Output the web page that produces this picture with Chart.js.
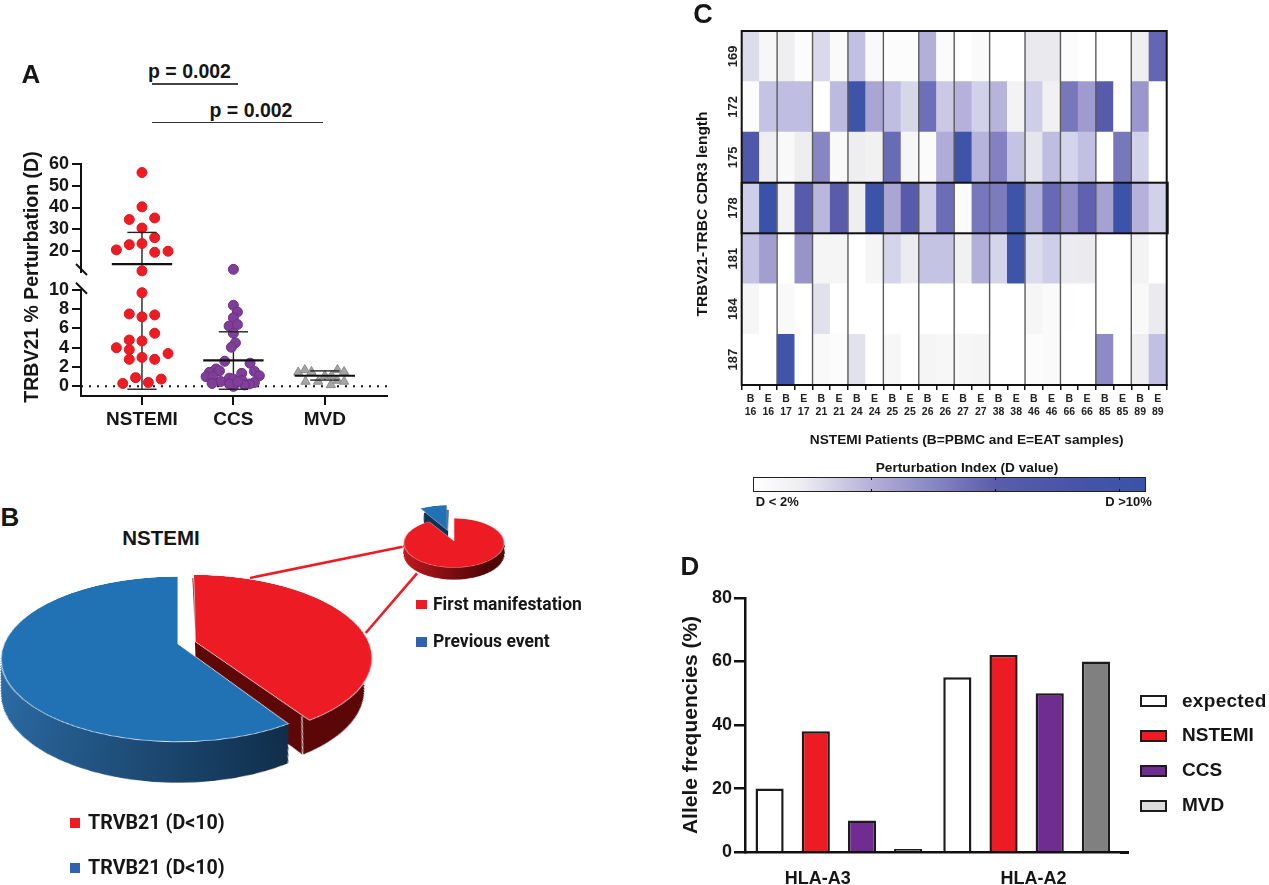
<!doctype html>
<html><head><meta charset="utf-8">
<style>
html,body{margin:0;background:#fff;overflow:hidden}
#page{position:relative;width:1269px;height:885px;overflow:hidden;font-family:'Liberation Sans',Arial,sans-serif;font-weight:bold;color:#161616}
canvas{position:absolute;display:block}
.t{position:absolute;white-space:nowrap;transform:translate(-50%,-50%)}
.b{position:absolute}
</style>
<script src="https://cdn.jsdelivr.net/npm/chart.js@4/dist/chart.umd.js"></script>
</head><body><div id="page"></div>
<script>
/* ---------- DATA ---------- */
/* A */
const groups=['NSTEMI','CCS','MVD'];
const yTicksHigh=[20,30,40,50,60];
const yTicksLow=[0,2,4,6,8,10];
const nstemiHighOff=[0,0,-.139,.139,0,.139,-.139,0,-.28,.139,.285,0];
const nstemiHighVal=[56,40.3,34.5,35.2,30.6,26.2,23,23.5,20.6,19.5,20,11];
const nstemiLowOff=[0,-.139,.139,0,.139,-.139,0,-.28,-.139,.285,-.139,0,.139,-.07,.21,-.21,.07];
const nstemiLowVal=[9.7,7.5,7.4,7.2,5.5,4.8,4.7,4,3.8,3.4,2.8,3,2.8,.9,.75,.3,.4];
const ccsHighOff=[0];
const ccsHighVal=[11.7];
const ccsLowOff=[0,.044,0,-.047,.044,0,.022,-.022,-.095,.182,-.19,-.153,-.262,.23,.091,.284,-.299,-.226,-.044,0,.095,-.138,-.233,.23,.175,.12,0,-.044,.047];
const ccsLowVal=[8.4,7.7,7.1,6.25,6.4,5.5,4.5,4.05,2.6,2.4,1.8,1.6,1.45,1.55,1.35,1.1,1,1,.85,.75,.6,.5,.3,.4,.25,.15,0,.25,.5];
const mvdOff=[-.291,-.219,-.146,-.211,-.073,0,.066,.073,.138,.211,.138,.211];
const mvdVal=[1.45,1.7,1.5,.5,.5,1.1,.15,1.1,1.7,1.5,.6,.5];
const means=[14.1,2.7,1.1];
const sdUpper=[28.6,5.65,1.6];
const sdLower=[-.3,-.3,.65];
/* B */
const mainPieLabels=['TRVB21 (D<10)','TRVB21 (D<10)'];
const mainPieValues=[41,59];
const subPieLabels=['First manifestation','Previous event'];
const subPieValues=[91,9];
/* C */
const patients=['16','17','21','24','25','26','27','38','46','66','85','89'];
const rowNames=['187','184','181','178','175','172','169'];
const row169=[2.5,.6,1.2,.2,2.7,.4,3.7,.5,.2,.2,4.3,.3,0,.4,0,0,1.6,1.6,.2,0,0,0,1.2,7.5];
const row172=[.2,3.6,3.8,3.8,0,3.9,9.6,4.6,3.8,2.8,7,3.4,4.2,3.1,4.1,.9,3.2,1.1,6.6,5,8.2,0,5.2,0];
const row175=[8.6,1.2,.5,1.3,5.9,.5,1.3,1.1,7.2,.7,.3,4.4,9.7,4.1,6.1,3.6,1.9,3.8,3,3.7,0,6.6,3.1,0];
const row178=[3.2,10,.9,8.2,4,8,1.3,9.8,4.6,8.2,3.2,7.1,.3,6.6,6.4,9.6,4.3,7.3,5.6,7.7,4.8,9.8,4.2,3.1];
const row181=[3.6,4.9,0,5.3,.8,.8,0,.8,3,1.4,3.6,3.6,1.1,4.3,3,9.6,2.5,3.2,1.4,1.5,0,0,.9,0];
const row184=[.7,0,.5,0,2.2,0,0,0,0,0,0,0,0,0,0,0,.7,.4,.1,0,0,0,.5,1.5];
const row187=[0,0,9.4,0,.5,.2,2.1,0,.6,0,.8,.6,.7,.8,0,0,.2,.4,0,0,5.7,0,1.2,3.7];
const heatStops=['#ffffff','#f2f2f2','#e4e4ec','#d4d4ea','#bab7de','#a09bce','#8583c2','#6e6fb8','#5a5cab','#4855a9','#3853a8'];
/* D */
const hlaCats=['HLA-A3','HLA-A2'];
const expectedFreq=[20,55];
const nstemiFreq=[38,62];
const ccsFreq=[10,50];
const mvdFreq=[1,60];
const freqTicks=[0,20,40,60,80];

/* ---------- HELPERS ---------- */
const page=document.getElementById('page');
Chart.defaults.font.family="'Liberation Sans',Arial,sans-serif";
Chart.defaults.font.weight='bold';
Chart.defaults.color='#161616';
Chart.defaults.animation=false;
Chart.defaults.responsive=false;
Chart.defaults.plugins.legend.display=false;
Chart.defaults.plugins.tooltip.enabled=false;
const INK='#111';
function cv(x,y,w,h,tf){const c=document.createElement('canvas');c.width=w;c.height=h;
  c.style.cssText=`left:${x}px;top:${y}px;width:${w}px;height:${h}px`+(tf?`;transform:${tf};transform-origin:50% 50%`:'');page.appendChild(c);return c;}
function txt(s,cx,cy,size,opt={}){const d=document.createElement('div');d.className='t';d.textContent=s;
  d.style.cssText=`left:${cx}px;top:${cy}px;font-size:${size}px;`+(opt.css||'');
  if(opt.rot)d.style.transform='translate(-50%,-50%) rotate(-90deg)';page.appendChild(d);return d;}
function box(x,y,w,h,css){const d=document.createElement('div');d.className='b';d.style.cssText=`left:${x}px;top:${y}px;width:${w}px;height:${h}px;${css}`;page.appendChild(d);return d;}
function hexRgb(h){return [1,3,5].map(i=>parseInt(h.substr(i,2),16));}
function heat(v){const a=Math.min(10,Math.max(0,v)),i=Math.min(9,Math.floor(a)),f=a-i,p=hexRgb(heatStops[i]),q=hexRgb(heatStops[i+1]);
  return `rgb(${p.map((c,k)=>Math.round(c+(q[k]-c)*f)).join(',')})`;}

/* ---------- PANEL A ---------- */
const pts=(g,off,val)=>val.map((v,k)=>({x:g+off[k],y:v}));
const xMin=-.667,xMax=2.68,HIGH_MIN=10.5;
const lineDs=(data,yAxisID,w,color,extra={})=>({type:'scatter',showLine:true,data,yAxisID,borderColor:color||INK,borderWidth:w,pointRadius:0,clip:false,...extra});
const dsA=[];
dsA.push(lineDs([{x:xMin,y:0},{x:xMax,y:0}],'yLow',2,INK,{borderDash:[2,6],order:9}));
const markerDs=(data,yAxisID,fill,edge,style,r)=>({data,yAxisID,backgroundColor:fill,borderColor:edge,borderWidth:1,pointStyle:style,pointRadius:r,showLine:false,clip:false,order:5});
dsA.push(markerDs(pts(0,nstemiHighOff,nstemiHighVal),'y','#ed1c24','#e0161e','circle',5));
dsA.push(markerDs(pts(0,nstemiLowOff,nstemiLowVal),'yLow','#ed1c24','#e0161e','circle',5));
dsA.push(markerDs(pts(1,ccsHighOff,ccsHighVal),'y','#7f3f98','#6d2f87','circle',5));
dsA.push(markerDs(pts(1,ccsLowOff,ccsLowVal),'yLow','#7f3f98','#6d2f87','circle',5));
dsA.push(markerDs(pts(2,mvdOff,mvdVal),'yLow','#a5a5a5','#8c8c8c','triangle',5.4));
groups.forEach((g,i)=>{
  const axis=v=>v>=HIGH_MIN?'y':'yLow';
  dsA.push(lineDs([{x:i-.33,y:means[i]},{x:i+.33,y:means[i]}],axis(means[i]),2.2,INK,{order:1}));
  [sdUpper[i],sdLower[i]].forEach(v=>dsA.push(lineDs([{x:i-.16,y:v},{x:i+.16,y:v}],axis(v),1.4,'#222',{order:1})));
  if(sdUpper[i]>=HIGH_MIN){
    dsA.push(lineDs([{x:i,y:sdUpper[i]},{x:i,y:HIGH_MIN+3}],'y',1.4,'#222',{order:6}));
    dsA.push(lineDs([{x:i,y:10},{x:i,y:sdLower[i]}],'yLow',1.4,'#222',{order:6}));
  } else {
    dsA.push(lineDs([{x:i,y:sdUpper[i]},{x:i,y:sdLower[i]}],'yLow',1.4,'#222',{order:6}));
  }
});
const axisA=(ticks,extra)=>({type:'linear',position:'left',stack:'broken',offset:false,
  afterFit:s=>{s.width=66},
  afterBuildTicks:s=>{s.ticks=ticks.map(v=>({value:v}))},
  border:{display:true,color:'#111',width:2},
  grid:{drawOnChartArea:false,color:'#111',lineWidth:2,tickLength:9},
  ticks:{font:{size:18,weight:'bold'},padding:3,autoSkip:false,color:'#161616'},...extra});
new Chart(cv(0,150,400,285),{type:'scatter',data:{datasets:dsA},
  options:{layout:{padding:{left:15,top:12,right:13,bottom:0}},
  scales:{
    x:{type:'linear',min:xMin,max:xMax,
      afterFit:s=>{s.height=39},
      afterBuildTicks:s=>{s.ticks=groups.map((g,i)=>({value:i}))},
      border:{color:'#111',width:2},
      grid:{drawOnChartArea:false,color:'#111',lineWidth:2,tickLength:9},
      ticks:{font:{size:19,weight:'bold'},padding:3,autoSkip:false,maxRotation:0,callback:v=>groups[v],color:'#161616'}},
    y:axisA(yTicksHigh,{min:HIGH_MIN,max:60,stackWeight:109,weight:2}),
    yGap:{type:'linear',position:'left',stack:'broken',stackWeight:18,weight:1,min:0,max:1,
      afterFit:s=>{s.width=66},
      border:{display:false},grid:{display:false},ticks:{display:false}},
    yLow:axisA(yTicksLow,{min:-1,max:10,stackWeight:107,weight:0})
  }},
  plugins:[{id:'breakMarks',afterDraw(ch){
    const {ctx}=ch,hi=ch.scales.y,lo=ch.scales.yLow,x=hi.right;
    ctx.save();ctx.strokeStyle='#111';ctx.lineWidth=2;
    [hi.bottom-3,lo.top-2].forEach(y=>{ctx.beginPath();ctx.moveTo(x-5,y-5);ctx.lineTo(x+6,y+6);ctx.stroke();});
    ctx.restore();}}]
});
txt('TRBV21 % Perturbation (D)',31,276.5,19.5,{rot:true});
txt('A',31,74,26);
txt('p = 0.002',189.5,71,19.5);
box(152,83,86,2,'background:#444');
txt('p = 0.002',251,110,19.5);
box(152,121.5,171,1.2,'background:#333');

/* ---------- PANEL B ---------- */
const RED='#ed1c24',BLUE='#2171b5';
txt('B',10,516.7,26);
txt('NSTEMI',161,538,20.5);
const svgNS='http://www.w3.org/2000/svg',svg=document.createElementNS(svgNS,'svg');
svg.setAttribute('width',1269);svg.setAttribute('height',885);svg.style.cssText='position:absolute;left:0;top:0';
[[250,578,402.6,546.7],[365.7,633,417,573.3]].forEach(l=>{const e=document.createElementNS(svgNS,'line');
  ['x1','y1','x2','y2'].forEach((k,i)=>e.setAttribute(k,l[i]));e.setAttribute('stroke',RED);e.setAttribute('stroke-width',2.6);svg.appendChild(e);});
page.appendChild(svg);
/* side walls of the pies, built from the library's arc elements (Chart.js moves an arc by offset/4) */
const depthPlugin=(depth,taper,sides,trim,seam)=>({id:'depth',
 afterDatasetsUpdate(ch){const el=ch.getDatasetMeta(0).data[0];el.outerRadius-=trim;},
 beforeDatasetsDraw(ch){
  const {ctx}=ch,arcs=ch.getDatasetMeta(0).data;
  arcs.forEach((el,i)=>{
    const {x,y,startAngle:s,endAngle:e,outerRadius:R}=el;
    const o=(el.options.offset||0)/4,m=(s+e)/2,cx=x+Math.cos(m)*o,cy=y+Math.sin(m)*o;
    const g=ctx.createLinearGradient(cx-R,0,cx+R*.6,0);
    g.addColorStop(0,sides[i][0]);g.addColorStop(1,sides[i][1]);
    ctx.save();ctx.fillStyle=g;
    for(let d=depth;d>=1;d-=.5){const r=R-d*taper;ctx.beginPath();ctx.moveTo(cx,cy+d);ctx.arc(cx,cy+d,r,s,e);ctx.closePath();ctx.fill();}
    ctx.restore();
  });
 },
 afterDatasetsDraw(ch){
  if(!seam)return;
  const {ctx}=ch,el=ch.getDatasetMeta(0).data[0];
  const {x,y,endAngle:e,outerRadius:R,startAngle:s}=el;
  const o=(el.options.offset||0)/4,m=(s+e)/2,cx=x+Math.cos(m)*o,cy=y+Math.sin(m)*o,r=R-depth*taper;
  ctx.save();ctx.strokeStyle='#e8dede';ctx.lineWidth=1;ctx.beginPath();
  ctx.moveTo(cx+Math.cos(e)*R,cy+Math.sin(e)*R);ctx.lineTo(cx+Math.cos(e)*r,cy+depth+Math.sin(e)*r);ctx.stroke();ctx.restore();
 }});
new Chart(cv(178-260,644-260,520,520,'perspective(840px) rotateX(62.7deg)'),{type:'pie',
  data:{labels:mainPieLabels,datasets:[{data:mainPieValues,backgroundColor:[RED,BLUE],borderColor:'#eef2f6',borderWidth:1,offset:[72,0]}]},
  options:{radius:174,layout:{padding:0}},
  plugins:[depthPlugin(68,.19,[['#640808','#5c0707'],['#2d6ea8','#0e2a45']],8,true)]});
new Chart(cv(453.5-110,541-110,220,220,'perspective(552px) rotateX(60.7deg)'),{type:'pie',
  data:{labels:subPieLabels,datasets:[{data:subPieValues,backgroundColor:[RED,BLUE],borderColor:'#f6dede',borderWidth:.6,offset:[0,92]}]},
  options:{radius:50,layout:{padding:0}},
  plugins:[depthPlugin(22,.08,[['#c01a20','#4e0506'],['#123a60','#0c2640']],0,false)]});
const rb="font-family:Roboto;font-weight:700;";
box(416,599.5,11,9,'background:'+RED);
box(416,637,11,10,'background:#2f62b0');
{const a=txt(subPieLabels[0],433,604,17.5,{css:rb});a.style.transform='translate(0,-50%)';
 const b=txt(subPieLabels[1],433,641,17.5,{css:rb});b.style.transform='translate(0,-50%)';}
box(70,818,10,10,'background:'+RED);
box(70,863,10,10,'background:#2f62b0');
{const a=txt(mainPieLabels[0],88,822,19.7,{css:rb});a.style.transform='translate(0,-50%)';
 const b=txt(mainPieLabels[1],88,867,19.7,{css:rb});b.style.transform='translate(0,-50%)';}

/* ---------- PANEL C ---------- */
const sampleLabels=patients.flatMap(p=>[['B',p],['E',p]]);
const rowsBottomUp=[row187,row184,row181,row178,row175,row172,row169];
new Chart(cv(690,20,490,410),{type:'bar',
  data:{labels:sampleLabels,datasets:rowsBottomUp.map((r,i)=>({label:rowNames[i],data:r.map(()=>1),backgroundColor:r.map(heat),borderWidth:0,barPercentage:1,categoryPercentage:1,stack:'rows'}))},
  options:{layout:{padding:{left:0,top:11,right:13.3,bottom:0}},
   scales:{
    x:{stacked:true,afterFit:s=>{s.height=45},border:{color:'#111',width:2},
       grid:{drawOnChartArea:false,color:'#111',lineWidth:1.5,tickLength:5},
       ticks:{font:{size:10.5,weight:'bold'},padding:3,autoSkip:false,maxRotation:0,color:'#222'}},
    y:{stacked:true,min:0,max:7,afterFit:s=>{s.width=51.7},
       afterBuildTicks:s=>{s.ticks=rowNames.map((n,i)=>({value:i+.5}))},
       border:{color:'#111',width:2},grid:{display:false},
       ticks:{font:{size:13,weight:'bold'},minRotation:90,maxRotation:90,crossAlign:'center',padding:-11,autoSkip:false,
              callback:v=>rowNames[Math.floor(v)],color:'#222'}}
   }},
  plugins:[{id:'heatFrame',afterDatasetsDraw(ch){
    const {ctx,chartArea:a,scales:{x,y}}=ch;ctx.save();
    ctx.strokeStyle='#5c5c5c';ctx.lineWidth=1.4;
    for(let i=2;i<sampleLabels.length;i+=2){const px=(x.getPixelForValue(i-1)+x.getPixelForValue(i))/2;
      ctx.beginPath();ctx.moveTo(px,a.top);ctx.lineTo(px,a.bottom);ctx.stroke();}
    ctx.strokeStyle='#111';ctx.lineWidth=2;
    ctx.strokeRect(a.left,a.top,a.right-a.left,a.bottom-a.top);
    const hi=rowNames.indexOf('178');
    ctx.strokeRect(a.left,y.getPixelForValue(hi+1),a.right-a.left+1,y.getPixelForValue(hi)-y.getPixelForValue(hi+1));
    ctx.restore();}}]
});
txt('C',703,13.5,27);
txt('TRBV21-TRBC CDR3 length',701.5,214,15.5,{rot:true});
txt('NSTEMI Patients (B=PBMC and E=EAT samples)',966.7,439,13.7);
txt('Perturbation Index (D value)',967,467,13.7);
box(752.7,476.7,391.5,13.6,'border:1.5px solid #222;background:linear-gradient(90deg,#ffffff 0%,#eeeef2 12%,#b5b0d8 30%,#8583c2 47%,#5a5cab 62%,#4855a9 80%,#3853a8 100%)');
[871,995,1119].forEach(x=>{box(x-.5,477,1.5,3,'background:#111');box(x-.5,488.5,1.5,3,'background:#111');});
txt('D < 2%',777.3,500.7,13);
txt('D >10%',1128.5,500.7,13);

/* ---------- PANEL D ---------- */
const barDs=(label,data,fill)=>({label,data,backgroundColor:fill,borderColor:'#1c1c1c',borderWidth:2.5,borderSkipped:'bottom',categoryPercentage:.984,barPercentage:.61});
new Chart(cv(670,585,460,280),{type:'bar',
  data:{labels:hlaCats,datasets:[barDs('expected',expectedFreq,'#ffffff'),barDs('NSTEMI',nstemiFreq,RED),barDs('CCS',ccsFreq,'#6f2c91'),barDs('MVD',mvdFreq,'#808080')]},
  options:{layout:{padding:{left:0,top:12.3,right:9.5,bottom:0}},
   scales:{
    x:{afterFit:s=>{s.height=12.3},border:{color:'#111',width:2.5},grid:{display:false},ticks:{display:false}},
    y:{min:0,max:80,afterFit:s=>{s.width=75},
       afterBuildTicks:s=>{s.ticks=freqTicks.map(v=>({value:v}))},
       border:{color:'#111',width:2.5},
       grid:{drawOnChartArea:false,color:'#111',lineWidth:2.5,tickLength:11},
       ticks:{font:{size:18,weight:'bold'},padding:2,color:'#161616'},
       title:{display:true,text:'Allele frequencies (%)',font:{size:21,weight:'bold'},padding:{top:9,bottom:0},color:'#161616'}}
   }}});
box(1120,851.4,9,2.5,'background:#111');
txt('D',690,566,26);
txt(hlaCats[0],817.7,878,18);
txt(hlaCats[1],1033.6,878,18);
[['expected','#ffffff',700.7],['NSTEMI',RED,735],['CCS','#6f2c91',770],['MVD','#dcdcdc',805]].forEach(([n,c,y])=>{
  box(1139.6,y-5.5,23,8,`border:2.5px solid #1c1c1c;background:${c}`);
  const t=txt(n,1182,y,19,{css:n==='expected'?'letter-spacing:.3px;':''});t.style.transform='translate(0,-50%)';
});
</script></body></html>
